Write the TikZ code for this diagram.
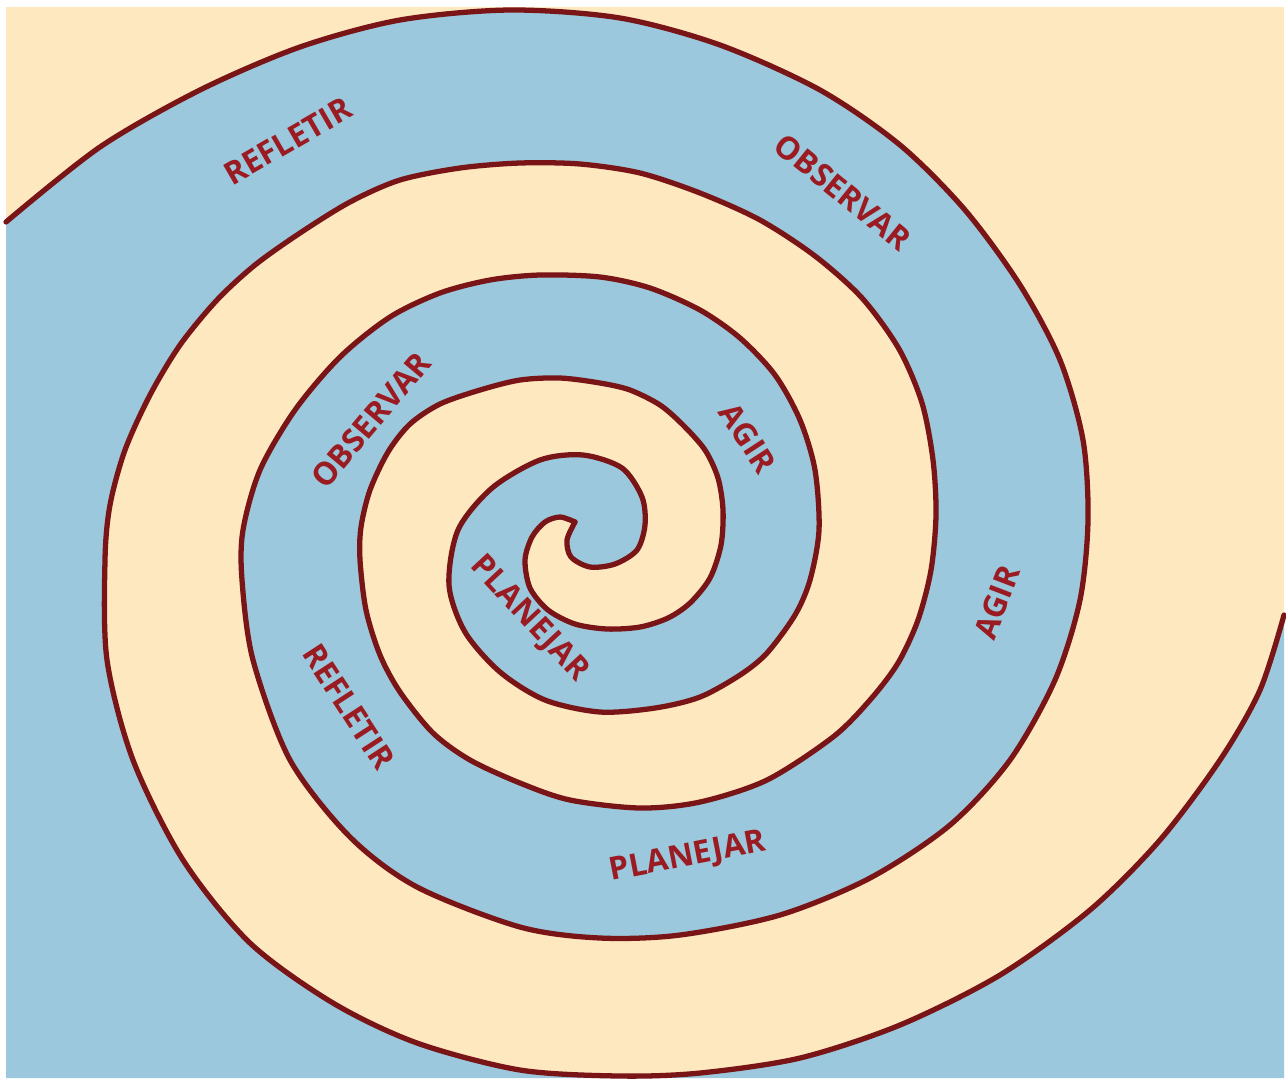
\documentclass[tikz,border=0pt]{standalone}
\usepackage{fontspec}
\newfontfamily\rotfont{Open Sans}
\usepackage{xcolor}
\definecolor{cbege}{HTML}{FDE8BF}
\definecolor{cazul}{HTML}{9BC8DC}
\definecolor{clinha}{HTML}{7A1517}
\definecolor{ctexto}{HTML}{9B1B22}
\usepackage{tikz}

% curva A: da ponta central para fora
\def\bracoA{plot[smooth] coordinates {(575,522) (560,517) (545,522) (532,537) (525,560) (530,588) (548,610) (575,624) (607,629) (640,627) (668,618) (690,603) (710,578) (721,545) (723,510) (718,478) (705,450) (683,425) (660,405) (630,390) (600,383) (560,378) (520,380) (480,390) (440,404) (410,424) (388,452) (370,490) (361,527) (360,560) (366,610) (380,655) (400,692) (433,733) (470,760) (520,783) (570,800) (640,808) (700,802) (767,780) (833,737) (870,700) (898,663) (918,620) (931,570) (936,515) (933,460) (922,403) (899,349) (862,298) (815,256) (760,220) (700,193) (640,173) (580,164) (520,163) (460,168) (400,180) (350,202) (300,233) (255,265) (217,300) (180,345) (150,395) (125,450) (110,505) (105,560) (107,660) (133,760) (183,860) (250,943) (333,1003) (417,1043) (520,1070) (620,1076) (700,1073) (800,1058) (900,1025) (1000,975) (1090,910) (1160,840) (1220,760) (1260,690) (1284,615)}}
% curva B: da borda esquerda ate a ponta central
\def\bracoB{-- plot[smooth] coordinates {(6,222) (100,147) (200,90) (300,47) (400,20) (510,10) (620,18) (720,45) (820,90) (900,145) (965,210) (1020,285) (1060,360) (1083,440) (1088,520) (1080,600) (1055,680) (1010,760) (950,825) (870,878) (780,915) (680,935) (600,938) (520,927) (417,887) (350,837) (290,760) (253,660) (242,580) (243,530) (260,470) (295,410) (340,357) (390,317) (440,293) (490,280) (540,275) (600,277) (650,288) (700,310) (740,338) (775,375) (800,420) (815,470) (819,530) (810,580) (795,615) (767,653) (740,675) (700,697) (655,708) (600,712) (545,700) (500,672) (465,632) (449,585) (458,530) (492,488) (540,460) (583,455) (622,468) (642,497) (645,525) (637,550) (615,564) (590,567) (571,557) (567,540) (575,522)}}

\begin{document}
\begin{tikzpicture}[x=0.01cm, y=-0.01cm,
  linha/.style={draw=clinha, line width=1.5pt, line join=round, line cap=round},
  rotulo/.style={text=ctexto, font=\rotfont\bfseries\fontsize{9}{10}\selectfont, inner sep=0pt}]
  \useasboundingbox (0,0) rectangle (1286,1078);
  % Fundo
  \fill[white] (0,0) rectangle (1286,1078);
  \fill[cbege] (6,7) rectangle (1284,1078);
  % Faixa azul entre as curvas
  \fill[cazul] \bracoA -- (1284,1078) -- (6,1078) -- (6,222) \bracoB -- cycle;
  % Curvas
  \draw[linha] \bracoA;
  \draw[linha] (6,222) \bracoB;
  % Rotulos
  \node[rotulo, rotate=30] (refletirA) at (288,141) {REFLETIR};
  \node[rotulo, rotate=-39] (observarA) at (843,192) {OBSERVAR};
  \node[rotulo, rotate=50] (observarB) at (371,420) {OBSERVAR};
  \node[rotulo, rotate=-57] (agirA) at (748,438) {AGIR};
  \node[rotulo, rotate=69] (agirB) at (997,602) {AGIR};
  \node[rotulo, rotate=-47] (planejarA) at (529,619) {PLANEJAR};
  \node[rotulo, rotate=-57] (refletirB) at (349,707) {REFLETIR};
  \node[rotulo, rotate=11] (planejarB) at (688,858) {PLANEJAR};
\end{tikzpicture}
\end{document}
